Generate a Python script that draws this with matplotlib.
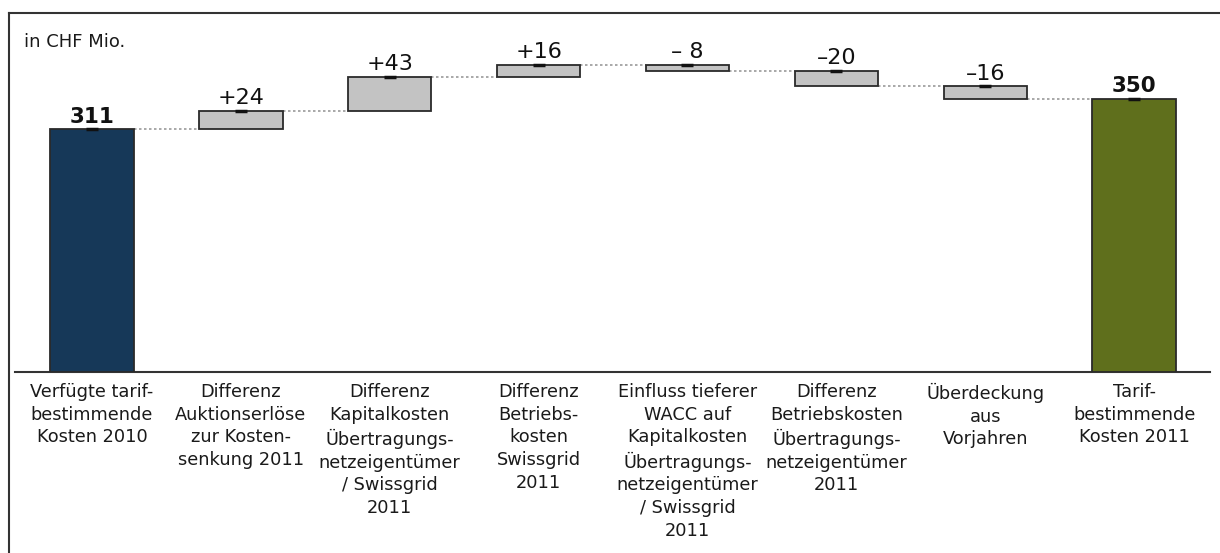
import matplotlib
matplotlib.use("Agg")
import matplotlib.pyplot as plt
from matplotlib.lines import Line2D

categories = [
    "Verfügte tarif-\nbestimmende\nKosten 2010",
    "Differenz\nAuktionserlöse\nzur Kosten-\nsenkung 2011",
    "Differenz\nKapitalkosten\nÜbertragungs-\nnetzeigentümer\n/ Swissgrid\n2011",
    "Differenz\nBetriebs-\nkosten\nSwissgrid\n2011",
    "Einfluss tieferer\nWACC auf\nKapitalkosten\nÜbertragungs-\nnetzeigentümer\n/ Swissgrid\n2011",
    "Differenz\nBetriebskosten\nÜbertragungs-\nnetzeigentümer\n2011",
    "Überdeckung\naus\nVorjahren",
    "Tarif-\nbestimmende\nKosten 2011",
]
start_value = 311
deltas = [24, 43, 16, -8, -20, -16]
end_value = 350
value_labels = ["311", "+24", "+43", "+16", "– 8", "–20", "–16", "350"]

fig = plt.figure(figsize=(12.2, 5.53), dpi=100)
W, H = 1220, 553
ax = fig.add_axes([15 / W, (H - 372) / H, (1210 - 15) / W, (372 - 13) / H])

# figure frame lines (top and left)
fig.add_artist(Line2D([9 / W, 1], [1 - 13 / H, 1 - 13 / H], transform=fig.transFigure,
                      color="#333333", lw=1.5))
fig.add_artist(Line2D([9 / W, 9 / W], [0, 1 - 13 / H], transform=fig.transFigure,
                      color="#333333", lw=1.5))

width = 0.56
edge = "#2a2a2a"
# totals
ax.bar(0, start_value, width=width, color="#163858", edgecolor=edge, linewidth=1.3, zorder=3)
ax.bar(len(categories) - 1, end_value, width=width, color="#5f6f1c", edgecolor=edge,
       linewidth=1.3, zorder=3)

levels = [start_value]
cur = start_value
for i, d in enumerate(deltas, start=1):
    bottom = cur if d >= 0 else cur + d
    ax.bar(i, abs(d), bottom=bottom, width=width, color="#c3c3c3", edgecolor=edge,
           linewidth=1.3, zorder=3)
    cur += d
    levels.append(cur)

# connectors
for i, lvl in enumerate(levels):
    ax.plot([i + width / 2, i + 1 - width / 2], [lvl, lvl], color="#9a9a9a",
            linestyle=(0, (1.5, 1.5)), lw=1.2, zorder=2)

# tops and labels
tops = [start_value]
cur = start_value
for d in deltas:
    tops.append(max(cur, cur + d))
    cur += d
tops.append(end_value)
for i, (t, lab) in enumerate(zip(tops, value_labels)):
    bold = i in (0, len(categories) - 1)
    ax.plot(i, t, marker="_", markersize=9, mew=2.5, color="#111111", zorder=4)
    ax.annotate(lab, (i, t), xytext=(0, 2), textcoords="offset points", ha="center",
                va="bottom", fontsize=15.5 if bold else 16,
                fontweight="bold" if bold else "normal", color="#111111")

ax.set_xlim(-0.517, 7.51)
ax.set_ylim(0, 460)
ax.set_xticks(range(len(categories)))
ax.set_xticklabels(categories, fontsize=12.8, color="#1a1a1a", linespacing=1.33, va="top")
ax.tick_params(axis="x", length=0, pad=8)
ax.set_yticks([])
for s in ("top", "right", "left"):
    ax.spines[s].set_visible(False)
ax.spines["bottom"].set_color("#333333")
ax.spines["bottom"].set_linewidth(1.5)

fig.text(24 / W, 1 - 42 / H, "in CHF Mio.", fontsize=13, color="#1a1a1a", va="center")

fig.savefig("out.png", dpi=100)
